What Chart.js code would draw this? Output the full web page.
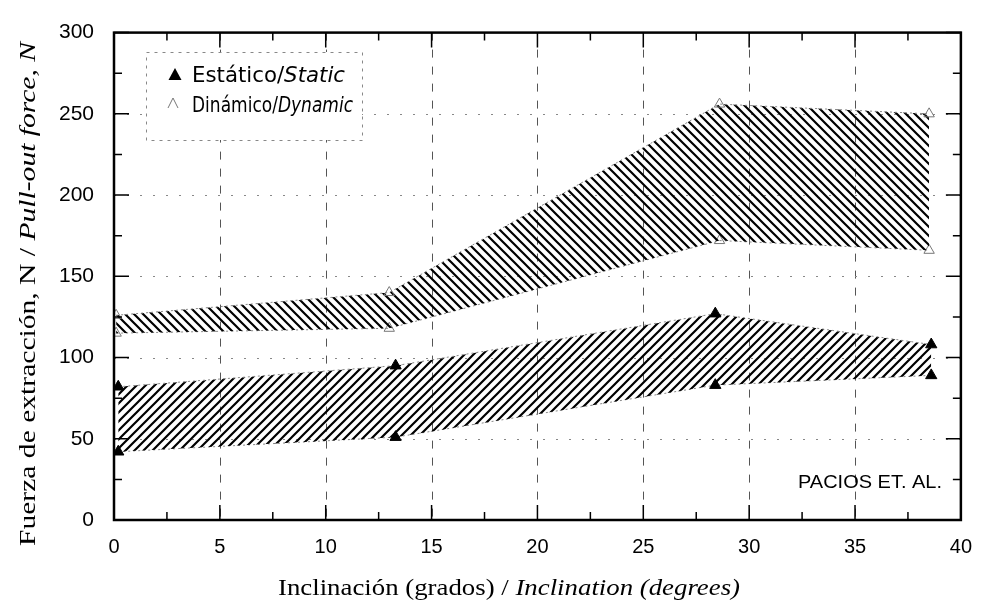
<!DOCTYPE html>
<html>
<head>
<meta charset="utf-8">
<script src="https://cdn.jsdelivr.net/npm/chart.js@4.4.1/dist/chart.umd.min.js"></script>
<style>
  html, body { margin: 0; padding: 0; background: #fff; }
  #wrap { width: 987px; height: 615px; position: relative; }
</style>
</head>
<body>
<div id="wrap"><canvas id="c" width="987" height="615"></canvas></div>
<script>
// ---- Data ----
const staticX   = [0.2, 13.3, 28.4, 38.6];
const staticMax = [82, 95, 127, 108];
const staticMin = [42, 51, 83, 89];

const dynamicX   = [0.1, 13.0, 28.6, 38.5];
const dynamicMax = [126, 140, 256, 250];
const dynamicMin = [115, 118, 172, 166];

const xTickValues = [0, 5, 10, 15, 20, 25, 30, 35, 40];
const yTickValues = [0, 50, 100, 150, 200, 250, 300];

const legendStatic  = ['Estático/', 'Static'];
const legendDynamic = ['Dinámico/', 'Dynamic'];
const xTitle = ['Inclinación (grados) / ', 'Inclination (degrees)'];
const yTitle = ['Fuerza de extracción, N / ', 'Pull-out force, N'];
const noteText = 'PACIOS ET. AL.';

// ---- hatch patterns ----
function hatch(dir) {
  const s = 9;
  const cv = document.createElement('canvas');
  cv.width = s; cv.height = s;
  const g = cv.getContext('2d');
  g.strokeStyle = '#000';
  g.lineWidth = 2.2;
  g.beginPath();
  if (dir === '/') {
    g.moveTo(-1, s + 1); g.lineTo(s + 1, -1);
    g.moveTo(-2, 2); g.lineTo(2, -2);
    g.moveTo(s - 2, s + 2); g.lineTo(s + 2, s - 2);
  } else {
    g.moveTo(-1, -1); g.lineTo(s + 1, s + 1);
    g.moveTo(-2, s - 2); g.lineTo(2, s + 2);
    g.moveTo(s - 2, -2); g.lineTo(s + 2, 2);
  }
  g.stroke();
  return g.createPattern(cv, 'repeat');
}
const hatchUp = hatch('/');
const hatchDown = hatch('\\');

const pts = (xs, ys) => xs.map((x, i) => ({ x: x, y: ys[i] }));

// ---- helper to draw mixed-style text fitted to a width ----
function drawRuns(ctx, runs, cx, by, target) {
  let total = 0;
  const widths = runs.map(r => { ctx.font = r.font; const w = ctx.measureText(r.text).width; total += w; return w; });
  const sx = target ? target / total : 1;
  const W = total * sx;
  ctx.save();
  ctx.translate(cx - W / 2, by);
  ctx.scale(sx, 1);
  ctx.textAlign = 'left';
  ctx.textBaseline = 'alphabetic';
  let x = 0;
  runs.forEach((r, i) => { ctx.font = r.font; ctx.fillText(r.text, x, 0); x += widths[i]; });
  ctx.restore();
}

const decor = {
  id: 'decor',
  beforeDatasetsDraw(chart) {
    const { ctx, chartArea: a, scales: { x, y } } = chart;
    ctx.save();
    ctx.lineWidth = 1;
    ctx.strokeStyle = '#555';
    ctx.setLineDash([8, 9]);
    xTickValues.slice(1, -1).forEach(v => {
      const px = Math.round(x.getPixelForValue(v)) + 0.5;
      ctx.beginPath(); ctx.moveTo(px, a.top); ctx.lineTo(px, a.bottom); ctx.stroke();
    });
    ctx.strokeStyle = '#888';
    ctx.setLineDash([2, 11]);
    yTickValues.slice(1, -1).forEach(v => {
      const py = Math.round(y.getPixelForValue(v)) + 0.5;
      ctx.beginPath(); ctx.moveTo(a.left, py); ctx.lineTo(a.right, py); ctx.stroke();
    });
    ctx.restore();
  },
  afterDatasetsDraw(chart) {
    const { ctx, chartArea: a, scales: { x, y } } = chart;
    ctx.save();
    ctx.setLineDash([]);
    ctx.strokeStyle = '#000';
    ctx.lineWidth = 2.5;
    ctx.strokeRect(a.left, a.top, a.right - a.left, a.bottom - a.top);
    ctx.lineWidth = 1.5;
    const major = 15, minor = 8;
    for (let v = 0; v <= 40; v += 2.5) {
      const px = x.getPixelForValue(v);
      const L = (v % 5 === 0) ? major : minor;
      ctx.beginPath();
      ctx.moveTo(px, a.bottom); ctx.lineTo(px, a.bottom - L);
      ctx.moveTo(px, a.top); ctx.lineTo(px, a.top + L);
      ctx.stroke();
    }
    for (let v = 0; v <= 300; v += 25) {
      const py = y.getPixelForValue(v);
      const L = (v % 50 === 0) ? major : minor;
      ctx.beginPath();
      ctx.moveTo(a.left, py); ctx.lineTo(a.left + L, py);
      ctx.moveTo(a.right, py); ctx.lineTo(a.right - L, py);
      ctx.stroke();
    }
    // legend box
    ctx.fillStyle = '#fff';
    ctx.fillRect(146, 52, 216, 88);
    ctx.strokeStyle = '#888';
    ctx.lineWidth = 1;
    ctx.setLineDash([3, 5]);
    ctx.strokeRect(146.5, 52.5, 216, 88);
    ctx.setLineDash([]);
    ctx.fillStyle = '#000';
    ctx.beginPath(); ctx.moveTo(175, 68); ctx.lineTo(181.5, 80); ctx.lineTo(168.5, 80); ctx.closePath(); ctx.fill();
    ctx.strokeStyle = '#777'; ctx.lineWidth = 1;
    ctx.beginPath(); ctx.moveTo(173, 98); ctx.lineTo(178, 108); ctx.moveTo(173, 98); ctx.lineTo(168, 108); ctx.stroke();
    ctx.fillStyle = '#000';
    drawRuns(ctx, [
      { text: legendStatic[0], font: '21px "DejaVu Sans"' },
      { text: legendStatic[1], font: 'italic 21px "DejaVu Sans"' }
    ], 192 + 153 / 2, 82, 153);
    drawRuns(ctx, [
      { text: legendDynamic[0], font: '21px "DejaVu Sans"' },
      { text: legendDynamic[1], font: 'italic 21px "DejaVu Sans"' }
    ], 192 + 161 / 2, 112, 161);
    drawRuns(ctx, [{ text: noteText, font: '18px "Liberation Sans"' }], 870, 488, 144);
    drawRuns(ctx, [
      { text: xTitle[0], font: '23px "Liberation Serif"' },
      { text: xTitle[1], font: 'italic 23px "Liberation Serif"' }
    ], 509, 595, 462);
    ctx.save();
    ctx.translate(35, 294);
    ctx.rotate(-Math.PI / 2);
    drawRuns(ctx, [
      { text: yTitle[0], font: '23px "Liberation Serif"' },
      { text: yTitle[1], font: 'italic 23px "Liberation Serif"' }
    ], 0, 0, 504);
    ctx.restore();
    ctx.restore();
  }
};

const bandLine = { borderColor: '#888', borderWidth: 1, borderDash: [2, 3], tension: 0 };

new Chart(document.getElementById('c'), {
  type: 'line',
  data: {
    datasets: [
      Object.assign({
        label: 'Estático/Static max', data: pts(staticX, staticMax),
        fill: '+1', backgroundColor: hatchUp,
        pointStyle: 'triangle', pointRadius: 6.5, pointBackgroundColor: '#000', pointBorderColor: '#000', pointBorderWidth: 1
      }, bandLine),
      Object.assign({
        label: 'Estático/Static min', data: pts(staticX, staticMin),
        fill: false,
        pointStyle: 'triangle', pointRadius: 6.5, pointBackgroundColor: '#000', pointBorderColor: '#000', pointBorderWidth: 1
      }, bandLine),
      Object.assign({
        label: 'Dinámico/Dynamic max', data: pts(dynamicX, dynamicMax),
        fill: '+1', backgroundColor: hatchDown,
        pointStyle: 'triangle', pointRadius: 6, pointBackgroundColor: 'rgba(255,255,255,0)', pointBorderColor: '#777', pointBorderWidth: 1
      }, bandLine),
      Object.assign({
        label: 'Dinámico/Dynamic min', data: pts(dynamicX, dynamicMin),
        fill: false,
        pointStyle: 'triangle', pointRadius: 6, pointBackgroundColor: 'rgba(255,255,255,0)', pointBorderColor: '#777', pointBorderWidth: 1
      }, bandLine)
    ]
  },
  options: {
    responsive: false,
    animation: false,
    events: [],
    layout: { padding: { top: 19, right: 19, left: 0, bottom: 0 } },
    plugins: { legend: { display: false }, tooltip: { enabled: false } },
    scales: {
      x: {
        type: 'linear', min: 0, max: 40,
        afterBuildTicks(s) { s.ticks = xTickValues.map(v => ({ value: v })); },
        ticks: { font: { family: "'Liberation Sans', Arial, sans-serif", size: 20 }, color: '#000', padding: 15, maxRotation: 0 },
        grid: { display: false, drawTicks: false },
        border: { display: false },
        afterFit(s) { s.height = 95; }
      },
      y: {
        type: 'linear', min: 0, max: 300,
        afterBuildTicks(s) { s.ticks = yTickValues.map(v => ({ value: v })); },
        ticks: { font: { family: "'Liberation Sans', Arial, sans-serif", size: 21 }, color: '#000', padding: 20 },
        grid: { display: false, drawTicks: false },
        border: { display: false },
        afterFit(s) { s.width = 114; }
      }
    }
  },
  plugins: [decor]
});
</script>
</body>
</html>
